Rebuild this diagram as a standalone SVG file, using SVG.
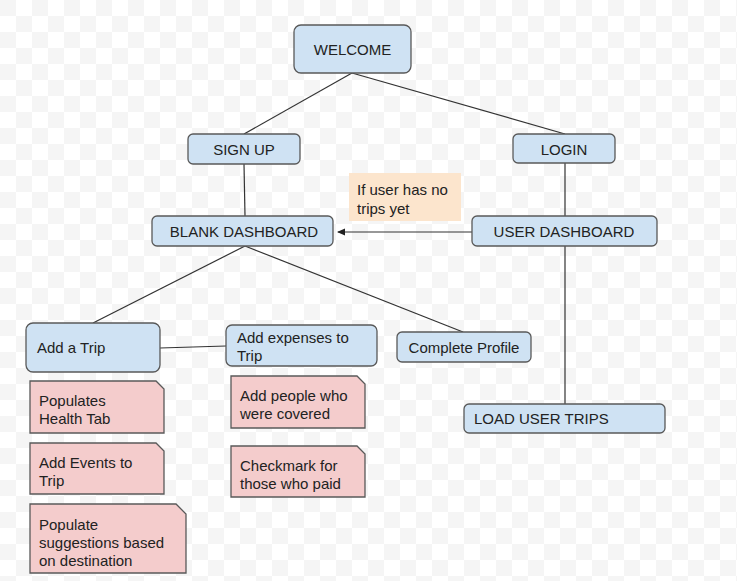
<svg xmlns="http://www.w3.org/2000/svg" width="737" height="581" viewBox="0 0 737 581">
<defs>
<pattern id="chk" width="32" height="32" patternUnits="userSpaceOnUse">
<rect width="32" height="32" fill="#ffffff"/>
<rect width="16" height="16" fill="#f5f5f5"/>
<rect x="16" y="16" width="16" height="16" fill="#f5f5f5"/>
</pattern>
<marker id="arr" markerWidth="8" markerHeight="8" refX="7" refY="4" orient="auto" markerUnits="userSpaceOnUse">
<path d="M0,0.5 L8,4 L0,7.5 Z" fill="#222"/>
</marker>
<style>
.box{fill:#cfe2f3;stroke:#595959;stroke-width:1.3}
.note{fill:#f4cccc;stroke:#595959;stroke-width:1.3}
.t{font-family:"Liberation Sans",Arial,sans-serif;font-size:15px;fill:#222}
.c{text-anchor:middle}
.ln{stroke:#333;stroke-width:1.2;fill:none}
</style>
</defs>
<rect width="737" height="581" fill="url(#chk)"/>
<g id="connectors">
<line class="ln" x1="352" y1="73" x2="244" y2="134"/>
<line class="ln" x1="352" y1="73" x2="565" y2="134"/>
<line class="ln" x1="244" y1="164" x2="245" y2="216"/>
<line class="ln" x1="565" y1="163" x2="565" y2="216"/>
<line class="ln" x1="565" y1="246" x2="565" y2="404"/>
<line class="ln" x1="245" y1="246" x2="93" y2="323"/>
<line class="ln" x1="245" y1="246" x2="463" y2="332"/>
<line class="ln" x1="160" y1="348" x2="226" y2="346"/>
<line class="ln" x1="472" y1="232" x2="338" y2="232" marker-end="url(#arr)"/>
</g>
<g id="welcome"><rect class="box" x="294" y="25" width="117" height="48" rx="7"/><text class="t c" x="352.5" y="54.5">WELCOME</text></g>
<g id="signup"><rect class="box" x="188" y="134" width="112" height="30" rx="5"/><text class="t c" x="244" y="154.5">SIGN UP</text></g>
<g id="login"><rect class="box" x="513" y="134" width="102" height="29" rx="5"/><text class="t c" x="564" y="154.5">LOGIN</text></g>
<g id="note-trips"><rect x="349" y="173" width="112" height="48" fill="#fce5cd"/><text class="t" x="357" y="195">If user has no</text><text class="t" x="357" y="214">trips yet</text></g>
<g id="blank-dashboard"><rect class="box" x="152" y="216" width="181" height="30" rx="5"/><text class="t c" x="244" y="236.5">BLANK DASHBOARD</text></g>
<g id="user-dashboard"><rect class="box" x="472" y="216" width="185" height="30" rx="5"/><text class="t c" x="564" y="236.5">USER DASHBOARD</text></g>
<g id="add-trip"><rect class="box" x="26" y="323" width="134" height="49" rx="7"/><text class="t" x="37" y="353">Add a Trip</text></g>
<g id="add-expenses"><rect class="box" x="226" y="325" width="151" height="41" rx="6"/><text class="t" x="237" y="343">Add expenses to</text><text class="t" x="237" y="361">Trip</text></g>
<g id="complete-profile"><rect class="box" x="397" y="332" width="134" height="30" rx="5"/><text class="t c" x="464" y="352.5">Complete Profile</text></g>
<g id="load-trips"><rect class="box" x="464" y="404" width="201" height="29" rx="5"/><text class="t" x="474" y="423.5">LOAD USER TRIPS</text></g>
<g id="health-tab"><path class="note" d="M30,381 H156 L164,389 V433 H30 Z"/><text class="t" x="39" y="406">Populates</text><text class="t" x="39" y="424">Health Tab</text></g>
<g id="add-events"><path class="note" d="M30,443 H156 L164,451 V494 H30 Z"/><text class="t" x="39" y="468">Add Events to</text><text class="t" x="39" y="486">Trip</text></g>
<g id="populate-suggestions"><path class="note" d="M30,504 H176 L186,514 V573 H30 Z"/><text class="t" x="39" y="530">Populate</text><text class="t" x="39" y="548">suggestions based</text><text class="t" x="39" y="566">on destination</text></g>
<g id="add-people"><path class="note" d="M231,376 H357 L365,384 V428 H231 Z"/><text class="t" x="240" y="401">Add people who</text><text class="t" x="240" y="419">were covered</text></g>
<g id="checkmark"><path class="note" d="M231,446 H357 L365,454 V497 H231 Z"/><text class="t" x="240" y="471">Checkmark for</text><text class="t" x="240" y="489">those who paid</text></g>
</svg>
